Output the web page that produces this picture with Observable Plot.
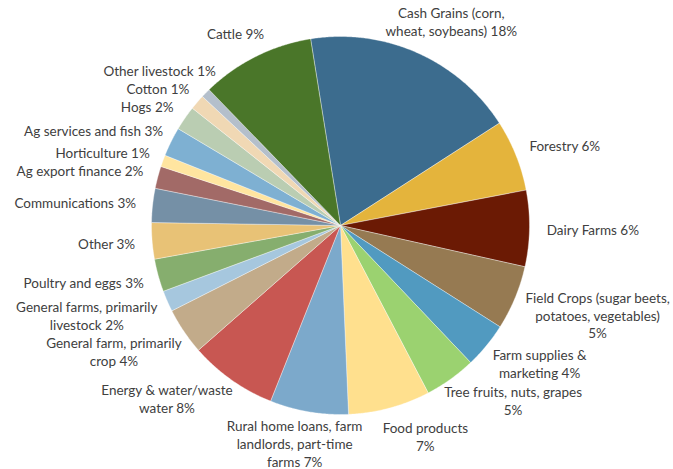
<!DOCTYPE html>
<html><head><meta charset="utf-8">
<script src="https://cdn.jsdelivr.net/npm/d3@7"></script>
<script src="https://cdn.jsdelivr.net/npm/@observablehq/plot@0.6"></script>
<style>body{margin:0;background:#fff}</style>
</head><body><div id="chart"></div>
<script>
// ---- data (clockwise from top) ----
const categories = ["Cash Grains (corn, wheat, soybeans)","Forestry","Dairy Farms","Field Crops (sugar beets, potatoes, vegetables)","Farm supplies & marketing","Tree fruits, nuts, grapes","Food products","Rural home loans, farm landlords, part-time farms","Energy & water/waste water","General farm, primarily crop","General farms, primarily livestock","Poultry and eggs","Other","Communications","Ag export finance","Horticulture","Ag services and fish","Hogs","Cotton","Other livestock","Cattle"];
const shares = [18.4, 6.1, 6.5, 5.5, 3.9, 4.4, 7.0, 6.7, 7.5, 4.0, 1.8, 2.8, 3.1, 2.9, 1.9, 1.0, 2.5, 2.1, 1.3, 0.8, 9.7];
const labels = ["Cash Grains (corn,\nwheat, soybeans) 18%","Forestry 6%","Dairy Farms 6%","Field Crops (sugar beets,\npotatoes, vegetables)\n5%","Farm supplies &\nmarketing 4%","Tree fruits, nuts, grapes\n5%","Food products\n7%","Rural home loans, farm\nlandlords, part-time\nfarms 7%","Energy & water/waste\nwater 8%","General farm, primarily\ncrop 4%","General farms, primarily\nlivestock 2%","Poultry and eggs 3%","Other 3%","Communications 3%","Ag export finance 2%","Horticulture 1%","Ag services and fish 3%","Hogs 2%","Cotton 1%","Other livestock 1%","Cattle 9%"];
const colors = ["#3c6c8e","#e4b43c","#6b1a04","#967a52","#519ac0","#9bd270","#ffe08e","#7ca9cb","#c85752","#c2ab8a","#a6c7de","#86ae6e","#e8c276","#7590a6","#a26a67","#ffe5a0","#7eb0d2","#bacdb2","#f0d8b4","#b4bfcb","#4a7629"];

// ---- layout ----
const W = 673, H = 469, cx = 340, cy = 225, r = 189, startDeg = -9.1;
const FONT_SIZE = 13.5, LINE_H = 18, FONT_FAMILY = "Lato";
const rad = Math.PI / 180;

const arcs = d3.pie().sort(null)
  .startAngle(startDeg * rad).endAngle((startDeg + 360) * rad)(shares);

// slice polygons in center-relative coordinates (y down)
const slicePts = [];
arcs.forEach((a, i) => {
  const n = Math.max(2, Math.ceil((a.endAngle - a.startAngle) / (0.4 * rad)));
  slicePts.push({k: i, x: 0, y: 0, color: colors[i]});
  for (let j = 0; j <= n; j++) {
    const t = a.startAngle + (a.endAngle - a.startAngle) * j / n;
    slicePts.push({k: i, x: r * Math.sin(t), y: -r * Math.cos(t), color: colors[i]});
  }
  slicePts.push({k: i, x: 0, y: 0, color: colors[i]});
});

// label boxes: placed just outside the rim along each slice's mid-angle,
// kept inside the chart area, then spread apart where they collide.
const ctx = document.createElement("canvas").getContext("2d");
ctx.font = `${FONT_SIZE}px ${FONT_FAMILY}`;
const bw = labels.map(s => d3.max(s.split("\n"), l => ctx.measureText(l).width));
const bh = labels.map(s => s.split("\n").length * LINE_H);
const R = 206, padX = 10, padY = 0;
const ang = arcs.map(a => (a.startAngle + a.endAngle) / 2);
function box(i) {
  const s = Math.sin(ang[i]), c = Math.cos(ang[i]);
  let x = R * s + s * bw[i] / 2, y = -R * c - c * bh[i] / 2;
  let pinned = false;
  const maxY = H - cy + 1 - bh[i] / 2, minY = -cy - 2 + bh[i] / 2;
  const maxX = W - cx + 2 - bw[i] / 2, minX = -cx + 2 + bw[i] / 2;
  if (y > maxY) { y = maxY; pinned = true; }
  if (y < minY) { y = minY; pinned = true; }
  if (x > maxX) { x = maxX; pinned = true; }
  if (x < minX) { x = minX; pinned = true; }
  return {x, y, pinned, x0: x - bw[i] / 2 - padX, x1: x + bw[i] / 2 + padX, y0: y - bh[i] / 2 - padY, y1: y + bh[i] / 2 + padY};
}
for (let it = 0; it < 4000; it++) {
  let moved = false;
  for (let i = 0; i < ang.length; i++) for (let j = i + 1; j < ang.length; j++) {
    const a = box(i), b = box(j);
    if (a.x0 < b.x1 && b.x0 < a.x1 && a.y0 < b.y1 && b.y0 < a.y1) {
      const d = ang[j] - ang[i];
      const dir = d <= Math.PI ? 1 : -1; // +1: i before j clockwise
      const step = 0.1 * rad;
      if (a.pinned && b.pinned) continue;
      if (a.pinned) ang[j] += 2 * step * dir;
      else if (b.pinned) ang[i] -= 2 * step * dir;
      else { ang[i] -= step * dir; ang[j] += step * dir; }
      moved = true;
    }
  }
  if (!moved) break;
}
const labelData = labels.map((t, i) => { const b = box(i); return {text: t, x: b.x, y: b.y}; });

const chart = Plot.plot({
  width: W, height: H,
  margin: 0,
  x: {domain: [-cx, W - cx], range: [0, W], axis: null},
  y: {domain: [-cy, H - cy], range: [0, H], axis: null},
  color: {type: "identity"},
  style: {background: "#fff"},
  marks: [
    Plot.line(slicePts, {x: "x", y: "y", z: "k", fill: "color", stroke: "#ffffff", strokeWidth: 0.6, strokeOpacity: 0.6, curve: "linear-closed"}),
    Plot.text(labelData, {x: "x", y: "y", text: "text", textAnchor: "middle", lineAnchor: "middle",
      lineHeight: LINE_H / FONT_SIZE, fontSize: FONT_SIZE, fontFamily: FONT_FAMILY, fill: "#404040"})
  ]
});
document.getElementById("chart").appendChild(chart);
</script>
</body></html>
